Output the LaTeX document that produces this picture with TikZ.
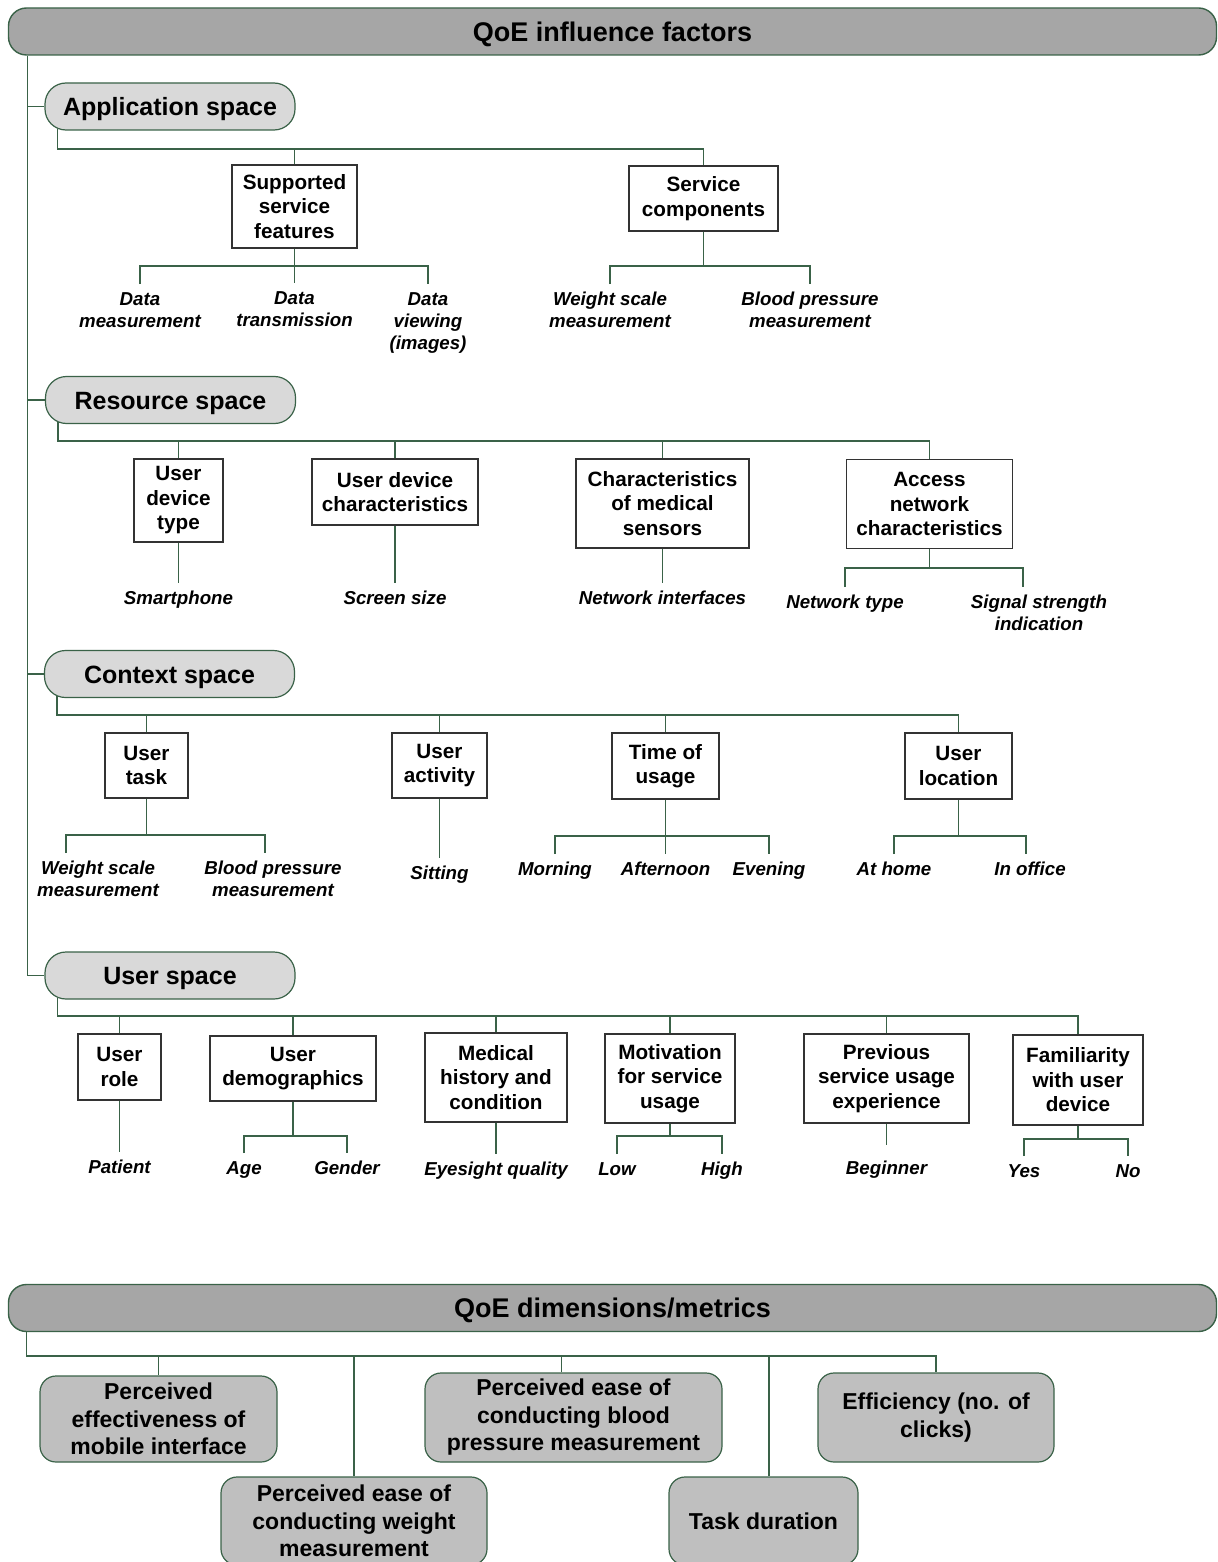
\documentclass[tikz,border=0pt]{standalone}
\usepackage{fontspec}
\setmainfont{Liberation Sans}
\definecolor{linegreen}{RGB}{58,98,72}
\definecolor{hdrgray}{RGB}{166,166,166}
\definecolor{spacegray}{RGB}{217,217,217}
\definecolor{metricgray}{RGB}{191,191,191}
\tikzset{
  header/.style={draw=linegreen, line width=1.4pt, fill=hdrgray, rounded corners=18pt,
    minimum width=1208pt, minimum height=47pt, text height=19.5pt, text depth=0pt,
    font=\fontsize{27}{30}\selectfont\bfseries},
  spacebox/.style={draw=linegreen, line width=1.2pt, fill=spacegray, rounded corners=21pt,
    minimum width=250pt, minimum height=47pt, text height=18pt, text depth=0pt,
    font=\fontsize{25}{28}\selectfont\bfseries},
  factor/.style={draw=black!80, line width=1.2pt, fill=white, align=center, inner sep=2pt,
    font=\fontsize{20.7}{24.5}\selectfont\bfseries},
  leaf/.style={anchor=north, align=center, inner xsep=1pt, inner ysep=8pt,
    font=\fontsize{18.7}{22}\selectfont\bfseries\itshape},
  metric/.style={draw=linegreen, line width=1.2pt, fill=metricgray, rounded corners=16pt,
    align=center, font=\fontsize{23}{27.5}\selectfont\bfseries},
  link/.style={draw=linegreen, line width=1.3pt}
}
\begin{document}
\begin{tikzpicture}[x=1pt,y=-1pt]
  \useasboundingbox (0,0) rectangle (1217,1562);

  \node[header] (hdrA) at (612.5,31.5) {QoE influence factors};
  \node[header] (hdrB) at (612.5,1308) {QoE dimensions/metrics};

  \node[spacebox] (appsp) at (170,106.5) {Application space};
  \node[spacebox] (ressp) at (170.5,400) {Resource space};
  \node[spacebox] (ctxsp) at (169.5,674) {Context space};
  \node[spacebox] (usrsp) at (170,975.5) {User space};

  \coordinate (trunk) at ([xshift=20pt]hdrA.south west);
  \draw[link] (trunk) |- (usrsp.west);
  \draw[link] (appsp.west -| trunk) -- (appsp.west);
  \draw[link] (ressp.west -| trunk) -- (ressp.west);
  \draw[link] (ctxsp.west -| trunk) -- (ctxsp.west);

  \node[factor, minimum width=125pt, minimum height=83pt] (sf) at (294.5,206.5) {Supported\\service\\features};
  \node[factor, minimum width=149pt, minimum height=65pt] (sc) at (703.5,198.5) {Service\\components};
  \coordinate (appbus) at (0,149);
  \draw[link] ([xshift=13pt,yshift=2pt]appsp.south west) |- (appbus -| sc.north) -- (sc.north);
  \draw[link] (sf.north) -- (sf.north |- appbus);

  \node[leaf] (dm) at (140,284) {Data\\measurement};
  \node[leaf] (dt) at (294.5,283) {Data\\transmission};
  \node[leaf] (dv) at (428,284) {Data\\viewing\\(images)};
  \coordinate (sfbus) at (0,266);
  \draw[link] (sf.south) -- (dt.north);
  \draw[link] (dm.north) |- (sfbus -| dv.north) -- (dv.north);

  \node[leaf] (ws1) at (610,284) {Weight scale\\measurement};
  \node[leaf] (bp1) at (810,284) {Blood pressure\\measurement};
  \coordinate (scbus) at (0,266);
  \draw[link] (sc.south) -- (sc.south |- scbus);
  \draw[link] (ws1.north) |- (scbus -| bp1.north) -- (bp1.north);

  \node[factor, minimum width=89pt, minimum height=83pt] (udt) at (178.5,500.5) {User\\device\\type};
  \node[factor, minimum width=166pt, minimum height=66pt] (udc) at (395,492) {User device\\characteristics};
  \node[factor, minimum width=173pt, minimum height=89pt] (cms) at (662.5,503.5) {Characteristics\\of medical\\sensors};
  \node[factor, minimum width=166pt, minimum height=89pt] (anc) at (929.5,504) {Access\\network\\characteristics};
  \coordinate (resbus) at (0,441);
  \draw[link] ([xshift=13pt,yshift=2pt]ressp.south west) |- (resbus -| anc.north) -- (anc.north);
  \draw[link] (udt.north) -- (udt.north |- resbus);
  \draw[link] (udc.north) -- (udc.north |- resbus);
  \draw[link] (cms.north) -- (cms.north |- resbus);

  \node[leaf] (sp) at (178.5,583) {Smartphone};
  \node[leaf] (ss) at (395,583) {Screen size};
  \node[leaf] (ni) at (662.5,583) {Network interfaces};
  \node[leaf] (nt) at (845,587) {Network type};
  \node[leaf] (sg) at (1039,587) {Signal strength\\indication};
  \coordinate (sgtop) at ([xshift=-16pt]sg.north);
  \coordinate (ancbus) at (0,568);
  \draw[link] (udt.south) -- (sp.north);
  \draw[link] (udc.south) -- (ss.north);
  \draw[link] (cms.south) -- (ni.north);
  \draw[link] (anc.south) -- (anc.south |- ancbus);
  \draw[link] (nt.north) |- (ancbus -| sgtop) -- (sgtop);

  \node[factor, minimum width=83pt, minimum height=65pt] (ut) at (146.5,765.5) {User\\task};
  \node[factor, minimum width=95pt, minimum height=65pt] (ua) at (439.5,765.5) {User\\activity};
  \node[factor, minimum width=107pt, minimum height=66pt] (tu) at (665.5,766) {Time of\\usage};
  \node[factor, minimum width=107pt, minimum height=66pt] (ul) at (958.5,766) {User\\location};
  \coordinate (ctxbus) at (0,715);
  \draw[link] ([xshift=13pt,yshift=2pt]ctxsp.south west) |- (ctxbus -| ul.north) -- (ul.north);
  \draw[link] (ut.north) -- (ut.north |- ctxbus);
  \draw[link] (ua.north) -- (ua.north |- ctxbus);
  \draw[link] (tu.north) -- (tu.north |- ctxbus);

  \node[leaf] (ws2) at (98,853) {Weight scale\\measurement};
  \node[leaf] (bp2) at (273,853) {Blood pressure\\measurement};
  \coordinate (ws2top) at ([xshift=-32pt]ws2.north);
  \coordinate (bp2top) at ([xshift=-8pt]bp2.north);
  \coordinate (utbus) at (0,835);
  \draw[link] (ut.south) -- (ut.south |- utbus);
  \draw[link] (ws2top) |- (utbus -| bp2top) -- (bp2top);

  \node[leaf] (si) at (439.5,858) {Sitting};
  \draw[link] (ua.south) -- (si.north);

  \node[leaf] (morn) at (555,854) {Morning};
  \node[leaf] (af) at (665.5,854) {Afternoon};
  \node[leaf] (ev) at (769,854) {Evening};
  \coordinate (tubus) at (0,836);
  \draw[link] (tu.south) -- (af.north);
  \draw[link] (morn.north) |- (tubus -| ev.north) -- (ev.north);

  \node[leaf] (ah) at (894,854) {At home};
  \node[leaf] (io) at (1030,854) {In office};
  \coordinate (iotop) at ([xshift=-4pt]io.north);
  \coordinate (ulbus) at (0,836);
  \draw[link] (ul.south) -- (ul.south |- ulbus);
  \draw[link] (ah.north) |- (ulbus -| iotop) -- (iotop);

  \node[factor, minimum width=83pt, minimum height=66pt] (ur) at (119.5,1067) {User\\role};
  \node[factor, minimum width=166pt, minimum height=65pt] (ud) at (293,1068.5) {User\\demographics};
  \node[factor, minimum width=142pt, minimum height=89pt] (mh) at (496,1077.5) {Medical\\history and\\condition};
  \node[factor, minimum width=130pt, minimum height=89pt] (mv) at (670,1078.5) {Motivation\\for service\\usage};
  \node[factor, minimum width=165pt, minimum height=89pt] (ps) at (886.5,1078.5) {Previous\\service usage\\experience};
  \node[factor, minimum width=130pt, minimum height=90pt] (fa) at (1078,1080) {Familiarity\\with user\\device};
  \coordinate (usrbus) at (0,1016);
  \draw[link] ([xshift=13pt,yshift=2pt]usrsp.south west) |- (usrbus -| fa.north) -- (fa.north);
  \draw[link] (ur.north) -- (ur.north |- usrbus);
  \draw[link] (ud.north) -- (ud.north |- usrbus);
  \draw[link] (mh.north) -- (mh.north |- usrbus);
  \draw[link] (mv.north) -- (mv.north |- usrbus);
  \draw[link] (ps.north) -- (ps.north |- usrbus);

  \node[leaf] (pa) at (119.5,1152) {Patient};
  \draw[link] (ur.south) -- (pa.north);

  \node[leaf] (ag) at (244,1153) {Age};
  \node[leaf] (ge) at (347,1153) {Gender};
  \coordinate (udbus) at (0,1136);
  \draw[link] (ud.south) -- (ud.south |- udbus);
  \draw[link] (ag.north) |- (udbus -| ge.north) -- (ge.north);

  \node[leaf] (eq) at (496,1154) {Eyesight quality};
  \draw[link] (mh.south) -- (eq.north);

  \node[leaf] (lo) at (617,1154) {Low};
  \node[leaf] (hi) at (722,1154) {High};
  \coordinate (mvbus) at (0,1136);
  \draw[link] (mv.south) -- (mv.south |- mvbus);
  \draw[link] (lo.north) |- (mvbus -| hi.north) -- (hi.north);

  \node[leaf] (be) at (886.5,1153) {Beginner};
  \coordinate (betop) at ([yshift=8pt]be.north);
  \draw[link] (ps.south) -- (betop);

  \node[leaf] (ye) at (1024,1156) {Yes};
  \node[leaf] (no) at (1128,1156) {No};
  \coordinate (fabus) at (0,1139);
  \draw[link] (fa.south) -- (fa.south |- fabus);
  \draw[link] (ye.north) |- (fabus -| no.north) -- (no.north);

  \node[metric, minimum width=237pt, minimum height=86pt] (m1) at (158.5,1419) {Perceived\\effectiveness of\\mobile interface};
  \node[metric, minimum width=266pt, minimum height=88pt] (m2) at (354,1521) {Perceived ease of\\conducting weight\\measurement};
  \node[metric, minimum width=297pt, minimum height=89pt] (m3) at (573.5,1417.5) {Perceived ease of\\conducting blood\\pressure measurement};
  \node[metric, minimum width=189pt, minimum height=88pt] (m4) at (763.5,1521) {Task duration};
  \node[metric, minimum width=236pt, minimum height=89pt] (m5) at (936,1417.5) {Efficiency (no. of\\clicks)};
  \coordinate (m3top) at ([xshift=-12pt]m3.north);
  \coordinate (m4top) at ([xshift=5.5pt]m4.north);
  \coordinate (metbus) at (0,1356);
  \draw[link] ([xshift=19pt]hdrB.south west) |- (metbus -| m5.north) -- (m5.north);
  \draw[link] (m1.north) -- (m1.north |- metbus);
  \draw[link] (m2.north) -- (m2.north |- metbus);
  \draw[link] (m3top) -- (m3top |- metbus);
  \draw[link] (m4top) -- (m4top |- metbus);
\end{tikzpicture}
\end{document}
